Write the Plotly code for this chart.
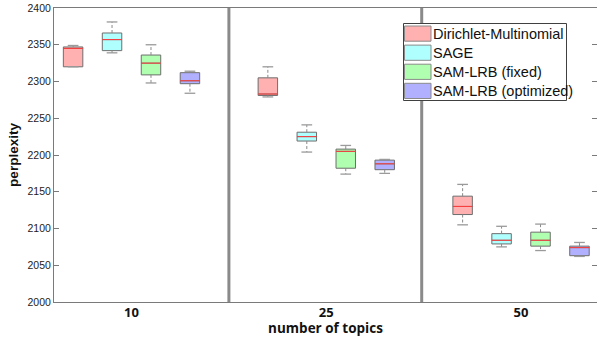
import plotly.graph_objects as go

# ---------------- data ----------------
topics = ["10", "25", "50"]
series = ["Dirichlet-Multinomial", "SAGE", "SAM-LRB (fixed)", "SAM-LRB (optimized)"]

# per series: values for topics 10, 25, 50
lower = {
    "Dirichlet-Multinomial": [2320, 2279, 2105],
    "SAGE": [2339, 2204, 2075],
    "SAM-LRB (fixed)": [2298, 2174, 2070],
    "SAM-LRB (optimized)": [2284, 2175, 2062],
}
q1 = {
    "Dirichlet-Multinomial": [2320, 2281, 2119],
    "SAGE": [2342, 2219, 2079],
    "SAM-LRB (fixed)": [2309, 2182, 2076],
    "SAM-LRB (optimized)": [2297, 2180, 2063],
}
median = {
    "Dirichlet-Multinomial": [2345, 2283, 2130],
    "SAGE": [2357, 2225, 2084],
    "SAM-LRB (fixed)": [2325, 2205, 2084],
    "SAM-LRB (optimized)": [2301, 2188, 2074],
}
q3 = {
    "Dirichlet-Multinomial": [2347, 2305, 2144],
    "SAGE": [2366, 2231, 2093],
    "SAM-LRB (fixed)": [2336, 2208, 2095],
    "SAM-LRB (optimized)": [2312, 2193, 2076],
}
upper = {
    "Dirichlet-Multinomial": [2349, 2320, 2160],
    "SAGE": [2381, 2241, 2103],
    "SAM-LRB (fixed)": [2350, 2213, 2106],
    "SAM-LRB (optimized)": [2314, 2194, 2081],
}
y_ticks = [2000, 2050, 2100, 2150, 2200, 2250, 2300, 2350, 2400]

# ---------------- styles ----------------
fills = ["#ffb0b0", "#b0ffff", "#b0ffb0", "#b0b0ff"]
edge = "#6e6e6e"
median_color = "#ff3c3c"
whisker_color = "#8a8a8a"
cap_color = "#9a9a9a"
slot = 0.2
box_w = 0.1
cap_w = 0.055

W, H = 597, 337
ML, MR, MT, MB = 54, 0, 8, 35
PW, PH = W - ML - MR, H - MT - MB

def px(xp):
    return (xp - ML) / PW

def py(yp):
    return (H - MB - yp) / PH

fig = go.Figure()
n = len(series)
for i, s in enumerate(series):
    off = (i - (n - 1) / 2) * slot
    pos = [g + off for g in range(len(topics))]
    fig.add_trace(go.Box(
        x=pos, q1=q1[s], median=median[s], q3=q3[s],
        lowerfence=q1[s], upperfence=q3[s],
        width=box_w, whiskerwidth=0,
        fillcolor=fills[i], line=dict(color=edge, width=1),
        name=s, showlegend=False, hoverinfo="skip", boxpoints=False,
    ))
    wx, wy, cx, cy, mx, my = [], [], [], [], [], []
    for p, lo, a, m, b, hi in zip(pos, lower[s], q1[s], median[s], q3[s], upper[s]):
        if hi > b:
            wx += [p, p, None]; wy += [b, hi, None]
        if lo < a:
            wx += [p, p, None]; wy += [a, lo, None]
        cx += [p - cap_w / 2, p + cap_w / 2, None, p - cap_w / 2, p + cap_w / 2, None]
        cy += [hi, hi, None, lo, lo, None]
        mx += [p - box_w / 2, p + box_w / 2, None]
        my += [m, m, None]
    fig.add_trace(go.Scatter(x=wx, y=wy, mode="lines", showlegend=False, hoverinfo="skip",
                             line=dict(color=whisker_color, width=1, dash="3px,2px")))
    fig.add_trace(go.Scatter(x=cx, y=cy, mode="lines", showlegend=False, hoverinfo="skip",
                             line=dict(color=cap_color, width=1.3)))
    fig.add_trace(go.Scatter(x=mx, y=my, mode="lines", showlegend=False, hoverinfo="skip",
                             line=dict(color=median_color, width=1)))

shapes = []
for xs in [0.5, 1.49]:
    shapes.append(dict(type="line", xref="x", yref="paper", x0=xs, x1=xs, y0=0, y1=1,
                       line=dict(color="#8a8a8a", width=3), layer="above"))
shapes.append(dict(type="rect", xref="paper", yref="paper",
                   x0=px(403.5), x1=px(566.5), y0=py(100.5), y1=py(23.5),
                   line=dict(color="#404040", width=1), fillcolor="white", layer="above"))
annotations = []
for i, s in enumerate(series):
    top = 26 + i * 19.1
    shapes.append(dict(type="rect", xref="paper", yref="paper",
                       x0=px(404.5), x1=px(431), y0=py(top + 15.2), y1=py(top),
                       line=dict(color="#8a8a8a", width=1), fillcolor=fills[i], layer="above"))
    annotations.append(dict(text=s, xref="paper", yref="paper", x=px(431.5), y=py(top + 7.8),
                            xanchor="left", yanchor="middle", showarrow=False,
                            font=dict(family="Liberation Sans", size=14.5, color="#111")))

fig.update_layout(
    width=W, height=H,
    margin=dict(l=ML, r=MR, t=MT, b=MB),
    paper_bgcolor="white", plot_bgcolor="white",
    shapes=shapes, annotations=annotations,
    xaxis=dict(range=[-0.398, 2.39], tickvals=list(range(len(topics))), ticktext=topics,
               showline=True, linecolor="#7a7a7a", linewidth=1, mirror=True,
               ticks="", showgrid=False, zeroline=False, ticklabelstandoff=-2,
               tickfont=dict(family="Open Sans", size=13, color="#111", weight="bold"),
               title=dict(text="number of topics", standoff=4,
                          font=dict(family="Open Sans", size=13.5, color="#111", weight="bold"))),
    yaxis=dict(range=[2000, 2400], tickvals=y_ticks, ticks="inside", ticklen=5,
               tickcolor="#7a7a7a", showline=True, linecolor="#7a7a7a", linewidth=1,
               mirror="ticks", showgrid=False, zeroline=False,
               tickfont=dict(family="Liberation Sans", size=10.5, color="#222"),
               title=dict(text="perplexity", standoff=5,
                          font=dict(family="Liberation Sans", size=13.5, color="#111", weight="bold"))),
)

fig.write_html("out.html", config={"displayModeBar": False},
               post_script="document.body.style.margin='0';document.body.style.overflow='hidden';")
